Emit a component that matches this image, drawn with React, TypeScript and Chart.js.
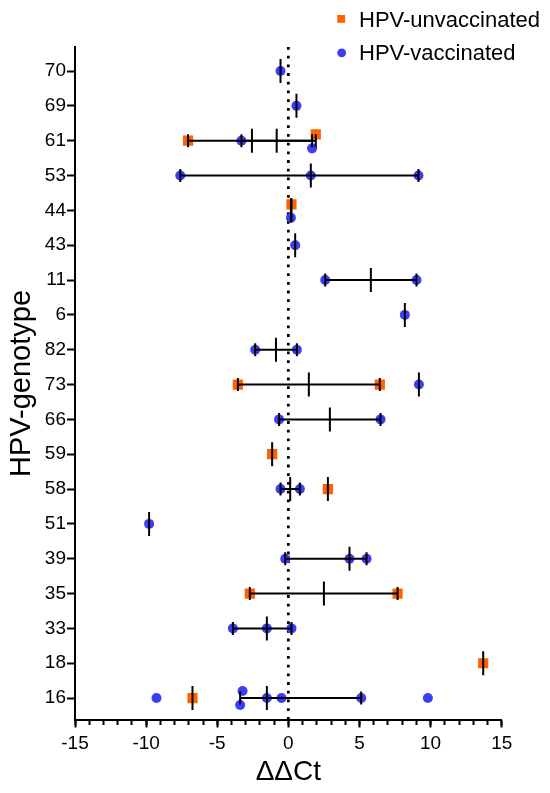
import React, { useEffect, useRef } from "react";
import { Chart, registerables, Plugin } from "chart.js";

Chart.register(...registerables);

// genotype rows, bottom to top (row index = y value)
const genotypes = ["16", "18", "33", "35", "39", "51", "58", "59", "66", "73", "82", "6", "11", "43", "44", "53", "61", "69", "70"];
const groups = ["HPV-unvaccinated", "HPV-vaccinated"];
const xTickValues = [-15, -10, -5, 0, 5, 10, 15];

// individual ΔΔCt values, HPV-unvaccinated
const unvacGenotype = ["61", "61", "44", "73", "73", "59", "58", "35", "35", "18", "16"];
const unvacValue = [-7.05, 1.93, 0.22, -3.55, 6.43, -1.14, 2.78, -2.71, 7.68, 13.7, -6.74];
const unvacNudge = [0, 0.18, 0.17, 0, 0, 0, 0, 0, 0, 0, 0];

// individual ΔΔCt values, HPV-vaccinated
const vacGenotype = [
  "70", "69", "61", "61", "53", "53", "53", "44", "43", "11", "11", "6", "82", "82", "73", "66", "66",
  "58", "58", "51", "39", "39", "39", "33", "33", "33", "16", "16", "16", "16", "16", "16", "16",
];
const vacValue = [
  -0.55, 0.57, -3.3, 1.67, -7.6, 1.58, 9.15, 0.18, 0.48, 2.59, 9.01, 8.19, -2.33, 0.6, 9.18, -0.65, 6.48,
  -0.55, 0.81, -9.79, -0.22, 4.3, 5.5, -3.9, -1.51, 0.22, -9.27, -3.22, -3.39, -1.51, -0.48, 5.12, 9.81,
];
const vacNudge = [
  0, 0, 0, -0.22, 0, 0, 0, -0.21, 0, 0, 0, 0, 0, 0, 0, 0, 0,
  0, 0, 0, 0, 0, 0, 0, 0, 0, 0, 0.2, -0.2, 0, 0, 0, 0,
];

// median and interquartile range per genotype
const unvacSumGenotype = ["61", "44", "73", "59", "58", "35", "18", "16"];
const unvacMedian = [-2.56, 0.22, 1.44, -1.14, 2.78, 2.5, 13.7, -6.74];
const unvacQ1 = [-7.05, 0.22, -3.55, -1.14, 2.78, -2.71, 13.7, -6.74];
const unvacQ3 = [1.93, 0.22, 6.43, -1.14, 2.78, 7.68, 13.7, -6.74];

const vacSumGenotype = ["70", "69", "61", "53", "44", "43", "11", "6", "82", "73", "66", "58", "51", "39", "33", "16"];
const vacMedian = [-0.55, 0.57, -0.82, 1.58, 0.18, 0.48, 5.8, 8.19, -0.87, 9.18, 2.92, 0.13, -9.79, 4.3, -1.51, -1.51];
const vacQ1 = [-0.55, 0.57, -3.3, -7.6, 0.18, 0.48, 2.59, 8.19, -2.33, 9.18, -0.65, -0.55, -9.79, -0.22, -3.9, -3.39];
const vacQ3 = [-0.55, 0.57, 1.67, 9.15, 0.18, 0.48, 9.01, 8.19, 0.6, 9.18, 6.48, 0.81, -9.79, 5.5, 0.22, 5.12];

const Y_MIN = -0.63;
const Y_MAX = 18.69;

const ORANGE = "#ff6200";
const BLUE = "#3d3df5";
const FONT = "'Liberation Sans', Arial, sans-serif";

Chart.defaults.font.family = FONT;
Chart.defaults.color = "#000";

const rowOf = (g: string) => genotypes.indexOf(g);

// legend in the top right corner, partly above the plot
const cornerLegend: Plugin = {
  id: "cornerLegend",
  afterDraw(chart) {
    const { ctx } = chart;
    ctx.save();
    ctx.fillStyle = ORANGE;
    ctx.fillRect(337.3, 15, 7.8, 7.8);
    ctx.fillStyle = BLUE;
    ctx.beginPath();
    ctx.arc(341.7, 52.8, 4.4, 0, Math.PI * 2);
    ctx.fill();
    ctx.fillStyle = "#000";
    ctx.font = `22px ${FONT}`;
    ctx.textBaseline = "alphabetic";
    ctx.fillText(groups[0], 359, 27.3);
    ctx.fillText(groups[1], 359, 60);
    ctx.restore();
  },
};

export default function App() {
  const canvasRef = useRef<HTMLCanvasElement | null>(null);
  const chartRef = useRef<Chart | null>(null);

  useEffect(() => {
    document.body.style.margin = "0";
    if (!canvasRef.current) return;
    if (chartRef.current) {
      chartRef.current.destroy();
      chartRef.current = null;
    }

    const base = { xAxisID: "x", yAxisID: "y" };

    const ranges = [
      ...unvacSumGenotype.map((g, i) => ({ g, lo: unvacQ1[i], hi: unvacQ3[i] })),
      ...vacSumGenotype.map((g, i) => ({ g, lo: vacQ1[i], hi: vacQ3[i] })),
    ].filter((r) => r.hi > r.lo);

    const rangeSets = ranges.map((r) => ({
      ...base,
      data: [
        { x: r.lo, y: rowOf(r.g) },
        { x: r.hi, y: rowOf(r.g) },
      ],
      showLine: true,
      borderColor: "#000",
      borderWidth: 2,
      pointRadius: 0,
      order: 0,
    }));

    const caps = ranges.flatMap((r) => [
      { x: r.lo, y: rowOf(r.g) },
      { x: r.hi, y: rowOf(r.g) },
    ]);

    const medians = [
      ...unvacSumGenotype.map((g, i) => ({ x: unvacMedian[i], y: rowOf(g) })),
      ...vacSumGenotype.map((g, i) => ({ x: vacMedian[i], y: rowOf(g) })),
    ];

    const tickStyle = {
      ...base,
      pointStyle: "line" as const,
      pointRotation: 90,
      pointBorderColor: "#000",
      pointBorderWidth: 2,
      pointBackgroundColor: "#000",
      order: 0,
    };

    chartRef.current = new Chart(canvasRef.current, {
      type: "scatter",
      data: {
        datasets: [
          ...rangeSets,
          { ...tickStyle, data: medians, pointRadius: 12 },
          { ...tickStyle, data: caps, pointRadius: 6.5 },
          {
            ...base,
            label: groups[0],
            data: unvacValue.map((v, i) => ({ x: v, y: rowOf(unvacGenotype[i]) + unvacNudge[i] })),
            pointStyle: "rect",
            pointRadius: 7.2,
            pointBackgroundColor: ORANGE,
            pointBorderWidth: 0,
            order: 1,
          },
          {
            ...base,
            label: groups[1],
            data: vacValue.map((v, i) => ({ x: v, y: rowOf(vacGenotype[i]) + vacNudge[i] })),
            pointStyle: "circle",
            pointRadius: 5,
            pointBackgroundColor: BLUE,
            pointBorderWidth: 0,
            order: 1,
          },
          {
            ...base,
            // reference line at ΔΔCt = 0
            data: [
              { x: 0, y: Y_MAX },
              { x: 0, y: Y_MIN },
            ],
            showLine: true,
            borderColor: "#000",
            borderWidth: 2.8,
            borderDash: [2.8, 5.9],
            pointRadius: 0,
            order: 2,
          },
        ] as any,
      },
      options: {
        animation: false,
        responsive: true,
        maintainAspectRatio: false,
        events: [],
        layout: { padding: { top: 47, right: 48.3, bottom: 0, left: 0 } },
        plugins: {
          legend: { display: false },
          tooltip: { enabled: false },
        },
        scales: {
          x: {
            type: "linear",
            axis: "x",
            position: "bottom",
            weight: 1,
            min: -15,
            max: 15,
            afterBuildTicks: (s) => {
              s.ticks = xTickValues.map((v) => ({ value: v }));
            },
            afterFit: (s) => {
              s.height = 73;
            },
            ticks: { color: "#000", font: { size: 19 }, padding: 4.5, maxRotation: 0, autoSkip: false },
            grid: { drawOnChartArea: false, tickLength: 7.5, tickWidth: 2, tickColor: "#000" },
            border: { color: "#000", width: 2 },
            title: {
              display: true,
              text: "ΔΔCt",
              color: "#000",
              font: { size: 28 },
              padding: { top: 0, bottom: 3.6 },
            },
          },
          xMinor: {
            type: "linear",
            axis: "x",
            position: "bottom",
            weight: 0,
            min: -15,
            max: 15,
            afterFit: (s) => {
              s.height = 0;
            },
            ticks: { display: false, stepSize: 1 },
            grid: { drawOnChartArea: false, tickLength: 5, tickWidth: 2, tickColor: "#000" },
            border: { display: false },
          },
          y: {
            type: "linear",
            min: Y_MIN,
            max: Y_MAX,
            afterBuildTicks: (s) => {
              s.ticks = genotypes.map((_, i) => ({ value: i }));
            },
            afterFit: (s) => {
              s.width = 75;
            },
            ticks: {
              color: "#000",
              font: { size: 19 },
              padding: 1,
              autoSkip: false,
              callback: (v) => genotypes[Number(v)] ?? "",
            },
            grid: { drawOnChartArea: false, tickLength: 8, tickWidth: 2, tickColor: "#000" },
            border: { color: "#000", width: 2 },
            title: {
              display: true,
              text: "HPV-genotype",
              color: "#000",
              font: { size: 29 },
              padding: { top: 4.3, bottom: 0 },
            },
          },
        },
      },
      plugins: [cornerLegend],
    });

    return () => {
      if (chartRef.current) {
        chartRef.current.destroy();
        chartRef.current = null;
      }
    };
  }, []);

  return (
    <div style={{ position: "relative", width: 550, height: 793 }}>
      <canvas ref={canvasRef} />
    </div>
  );
}
